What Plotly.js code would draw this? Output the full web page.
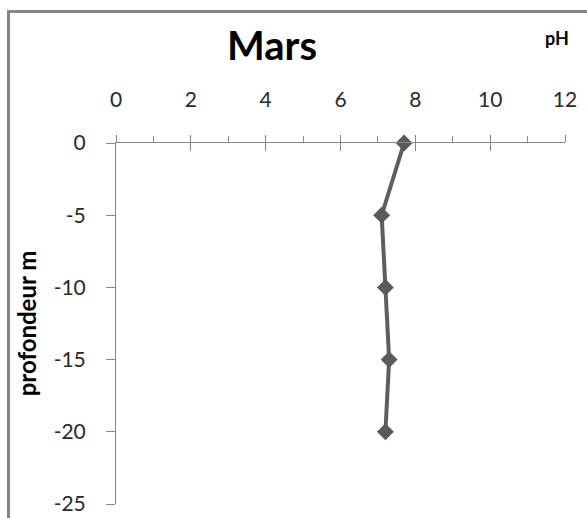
<!DOCTYPE html>
<html>
<head>
<meta charset="utf-8">
<script src="https://cdn.plot.ly/plotly-3.0.1.min.js"></script>
<style>
  html, body { margin: 0; padding: 0; background: #ffffff; overflow: hidden; }
  #frame {
    position: absolute; left: 7px; top: 10px; width: 640px; height: 600px;
    border: 3px solid #858585; box-sizing: border-box;
  }
  #chart { position: absolute; left: 0; top: 0; width: 587px; height: 518px; }
</style>
</head>
<body>
<div id="frame"></div>
<div id="chart"></div>
<script>
// Profil de pH en fonction de la profondeur (mois de mars)
const profondeur = [0, -5, -10, -15, -20];
const pH = [7.7, 7.1, 7.2, 7.3, 7.2];
const xTicks = [0, 2, 4, 6, 8, 10, 12];
const yTicks = [0, -5, -10, -15, -20, -25];

const axisGrey = '#868686';
const fontFamily = 'Lato, "Open Sans", sans-serif';
const labelFont = { family: fontFamily, size: 21, color: '#2a2a2a' };

const profil = {
  x: pH,
  y: profondeur,
  type: 'scatter',
  mode: 'lines+markers',
  cliponaxis: false,
  line: { color: '#5e5e5e', width: 4 },
  marker: { symbol: 'diamond', size: 13, color: '#5a5a5a' },
  showlegend: false,
  hoverinfo: 'x+y'
};

// empty trace so the overlaid axis (inner half of the crossing ticks) is drawn
const axeCroise = {
  x: [], y: [],
  type: 'scatter', mode: 'none',
  xaxis: 'x2', yaxis: 'y',
  showlegend: false, hoverinfo: 'skip'
};

const layout = {
  width: 587,
  height: 518,
  margin: { l: 116, r: 22, t: 143, b: 14, pad: 0 },
  paper_bgcolor: 'rgba(0,0,0,0)',
  plot_bgcolor: 'rgba(0,0,0,0)',
  showlegend: false,
  title: {
    text: '<b>Mars</b>',
    font: { family: fontFamily, size: 40, color: '#000000' },
    x: (272 - 116) / 449, xref: 'paper', xanchor: 'center',
    y: 1 - 46 / 518, yref: 'container', yanchor: 'middle'
  },
  xaxis: {
    side: 'top',
    range: [0, 12],
    tickmode: 'array',
    tickvals: xTicks,
    ticktext: xTicks.map(String),
    ticks: 'outside',
    ticklen: 7,
    tickwidth: 1,
    tickcolor: axisGrey,
    minor: { dtick: 1, ticks: 'outside', ticklen: 6, tickwidth: 1, tickcolor: axisGrey },
    showline: true,
    linecolor: axisGrey,
    linewidth: 1,
    showgrid: false,
    zeroline: false,
    tickfont: labelFont,
    ticklabelstandoff: 20,
    fixedrange: true
  },
  xaxis2: {
    overlaying: 'x',
    side: 'top',
    anchor: 'y',
    range: [0, 12],
    tickmode: 'array',
    tickvals: xTicks,
    ticks: 'inside',
    ticklen: 8,
    tickwidth: 1,
    tickcolor: axisGrey,
    showticklabels: false,
    showline: false,
    showgrid: false,
    zeroline: false,
    fixedrange: true
  },
  yaxis: {
    range: [-25, 0],
    tickmode: 'array',
    tickvals: yTicks,
    ticktext: yTicks.map(String),
    ticks: 'outside',
    ticklen: 9,
    tickwidth: 1,
    tickcolor: axisGrey,
    showline: true,
    linecolor: axisGrey,
    linewidth: 1,
    showgrid: false,
    zeroline: false,
    tickfont: labelFont,
    ticklabelstandoff: 16,
    title: {
      text: '<b>profondeur m</b>',
      font: { family: fontFamily, size: 24, color: '#000000' },
      standoff: 10
    },
    fixedrange: true
  },
  annotations: [
    {
      text: '<b>pH</b>',
      xref: 'paper', yref: 'paper',
      x: (557 - 116) / 449, y: 1 + (143 - 38) / 361,
      xanchor: 'center', yanchor: 'middle',
      showarrow: false,
      font: { family: fontFamily, size: 18, color: '#000000' }
    }
  ]
};

Plotly.newPlot('chart', [profil, axeCroise], layout, { displayModeBar: false, staticPlot: true });
</script>
</body>
</html>
